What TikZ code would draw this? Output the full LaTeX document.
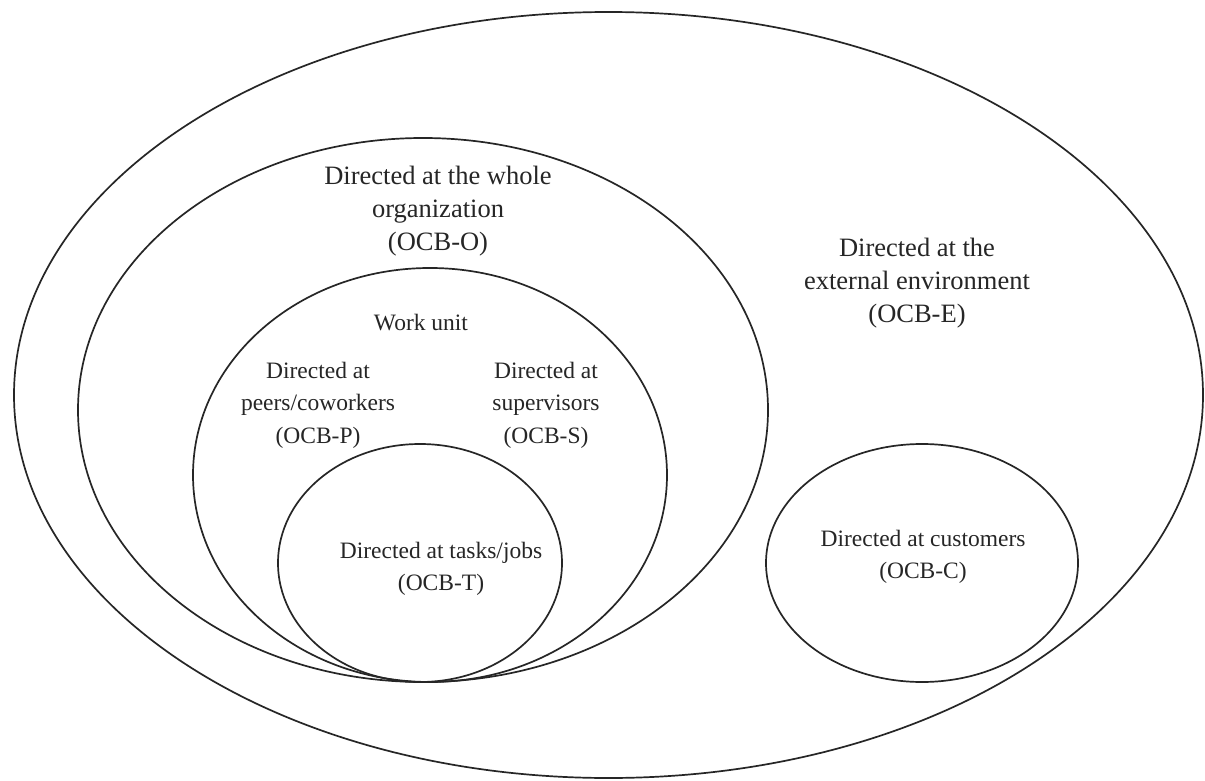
\documentclass[tikz,border=0pt]{standalone}
\usepackage{fontspec}
\setmainfont{Liberation Serif}
\usetikzlibrary{shapes.geometric}
\definecolor{ink}{HTML}{262626}
\begin{document}
\begin{tikzpicture}[x=1pt,y=-1pt,
  ring/.style={draw=ink, line width=1.7pt, ellipse, inner sep=0pt},
  bigtext/.style={text=ink, align=center, font=\fontsize{26.5}{33}\selectfont, inner sep=0pt},
  smalltext/.style={text=ink, align=center, font=\fontsize{23.5}{32.5}\selectfont, inner sep=0pt}]
\fill[white] (0,0) rectangle (1205,781);
\useasboundingbox (0,0) rectangle (1205,781);
% ellipses
\node[ring, minimum width=1189pt, minimum height=766pt] (env) at (608.5,395) {};
\node[ring, minimum width=690pt, minimum height=544pt] (org) at (423,410) {};
\node[ring, minimum width=474pt, minimum height=414pt] (unit) at (430,475) {};
\node[ring, minimum width=284pt, minimum height=238pt] (task) at (420,563) {};
\node[ring, minimum width=312pt, minimum height=238pt] (cust) at (922,563) {};
% labels
\node[bigtext] (orgtxt) at (438,211) {Directed at the whole\\organization\\(OCB-O)};
\node[bigtext] (envtxt) at (917,283) {Directed at the\\external environment\\(OCB-E)};
\node[smalltext] (unittxt) at (421,323) {Work unit};
\node[smalltext] (peertxt) at (318,405) {Directed at\\peers/coworkers\\(OCB-P)};
\node[smalltext] (suptxt) at (546,405) {Directed at\\supervisors\\(OCB-S)};
\node[smalltext] (tasktxt) at (441,569) {Directed at tasks/jobs\\(OCB-T)};
\node[smalltext] (custtxt) at (923,557) {Directed at customers\\(OCB-C)};
\end{tikzpicture}
\end{document}
